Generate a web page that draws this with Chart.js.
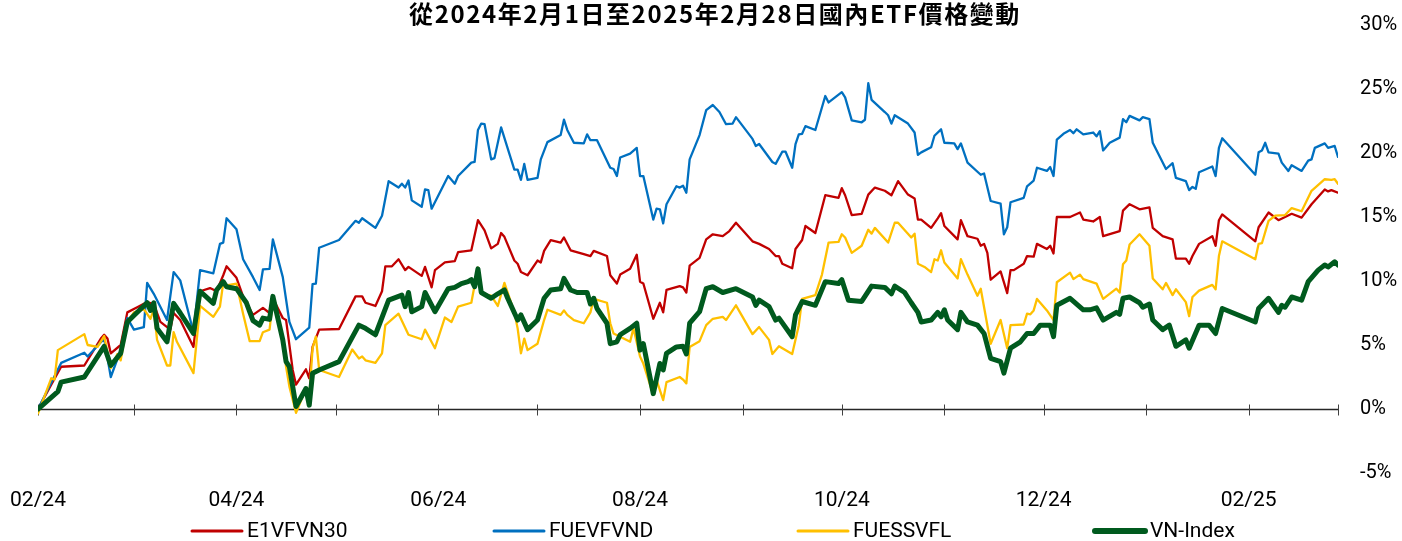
<!DOCTYPE html>
<html>
<head>
<meta charset="utf-8">
<script src="https://cdn.jsdelivr.net/npm/chart.js@4.4.1/dist/chart.umd.min.js"></script>
<style>
  html, body { margin: 0; padding: 0; background: #ffffff; }
  canvas { display: block; }
</style>
</head>
<body>
<canvas id="c" width="1402" height="541" style="width:1402px;height:541px"></canvas>
<script>
// x values are calendar days since 2024-02-01 (day 393 = 2025-02-28)
const titleText = '從2024年2月1日至2025年2月28日國內ETF價格變動';
const seriesNames = ['E1VFVN30', 'FUEVFVND', 'FUESSVFL', 'VN-Index'];
const monthTickDays = [0, 29, 60, 90, 121, 151, 182, 213, 243, 274, 304, 335, 366, 393];
const xLabelDays = [0, 60, 121, 182, 243, 304, 366];
const xLabels = ['02/24', '04/24', '06/24', '08/24', '10/24', '12/24', '02/25'];
const yTicks = [-5, 0, 5, 10, 15, 20, 25, 30];

const e1Days = [0,4,7,14,19,20,21,22,25,27,30,33,35,37,40,41,43,47,49,52,54,56,57,60,62,65,68,70,71,74,75,77,78,81,82,83,85,91,96,98,99,102,104,105,107,109,111,112,116,117,119,120,123,126,127,131,133,135,137,139,140,141,144,145,146,148,151,152,153,155,158,159,161,165,167,168,172,173,175,176,179,181,182,183,186,188,189,190,194,195,196,197,200,202,204,207,209,211,216,218,221,223,224,225,228,229,231,232,235,238,242,243,244,246,249,251,253,256,258,260,263,265,266,267,270,272,273,274,278,279,281,284,285,286,287,288,291,293,294,295,298,299,301,302,305,306,307,308,312,315,316,319,321,322,327,328,330,333,336,337,340,343,344,347,348,349,351,355,356,357,358,368,369,372,375,377,379,382,385,389,390,391,393];
const e1Vals = [0,1.9,3.3,3.4,5.5,5.8,5.5,4.35,5.0,7.55,7.95,8.35,8.2,6.8,6.2,7.5,6.95,4.85,9.2,9.45,9.2,10.45,11.15,10.25,8.8,7.35,7.9,7.5,8.65,7.1,6.95,3.05,1.9,3.1,2.4,4.85,6.2,6.25,8.8,8.8,8.3,8.05,9.2,11.15,11.15,11.7,10.85,11.1,10.4,11.1,9.5,10.85,11.45,11.55,12.25,12.4,14.75,13.95,12.55,12.9,13.75,13.45,11.6,11.35,10.7,10.45,11.6,11.45,12.35,13.2,13.0,13.4,12.4,12.1,11.95,12.35,11.95,10.45,9.8,10.5,10.95,12.05,9.95,9.8,7.05,8.3,7.55,9.3,9.6,9.5,9.1,11.2,11.8,13.25,13.65,13.5,13.9,14.55,13.1,12.9,12.5,11.95,11.95,11.35,11.0,12.5,13.2,14.3,13.75,16.7,16.5,17.25,16.7,15.15,15.25,16.75,17.3,17.05,16.7,17.8,16.75,16.45,14.8,14.8,14.15,14.9,15.3,14.3,13.25,14.75,13.5,13.3,12.75,12.9,12.2,10.1,10.75,9.05,10.85,10.85,11.35,11.95,11.9,12.9,12.5,12.75,12.15,15.0,15.0,15.35,14.8,14.65,15.0,13.5,13.9,15.5,16.0,15.6,15.75,14.15,13.5,13.25,11.75,11.75,11.35,11.95,12.9,13.5,12.75,14.75,15.2,13.1,14.2,15.35,14.75,15.0,15.25,14.95,16.0,17.15,17.0,17.1,16.9];

const fuevDays = [0,7,14,15,20,22,25,27,29,32,33,35,39,41,43,47,49,53,55,56,57,60,62,65,67,68,70,71,74,76,78,82,83,84,85,91,96,97,98,102,104,106,109,110,111,112,113,116,117,118,119,124,126,127,131,132,133,134,135,137,138,140,144,145,146,147,148,151,152,154,158,159,160,162,165,166,167,169,173,174,175,176,179,181,182,183,186,187,188,189,190,193,194,195,196,197,200,202,204,206,208,210,211,216,217,218,220,222,223,225,226,228,229,230,231,232,235,238,239,243,244,246,249,250,251,252,256,257,258,259,263,265,266,267,270,271,273,274,277,278,279,281,285,286,288,291,292,293,294,298,299,301,302,305,306,307,308,310,312,313,314,316,319,320,321,322,324,327,328,329,330,333,334,336,337,341,343,344,347,348,349,350,351,355,356,357,358,368,369,370,371,372,375,376,378,379,382,384,385,386,389,390,392,393];
const fuevVals = [0,3.6,4.4,4.1,5.5,2.5,4.6,7.1,6.2,6.4,9.85,9.0,6.95,10.7,10.05,6.0,10.85,10.6,12.9,13.0,14.9,14.05,11.7,10.3,9.3,10.9,10.95,13.25,10.3,6.8,5.45,6.35,9.75,9.8,12.6,13.2,14.7,14.55,14.9,14.15,15.1,17.8,17.3,17.6,17.3,17.85,16.3,15.8,17.15,17.1,15.65,18.2,17.6,18.2,19.25,19.3,21.8,22.3,22.25,19.5,19.6,22.0,18.7,18.7,17.9,19.15,17.9,18.05,19.5,20.85,21.4,22.6,21.8,20.8,20.75,21.45,21.0,21.0,18.85,18.75,18.2,19.65,19.95,20.4,18.2,18.2,14.8,15.65,15.6,14.5,16.0,17.4,17.3,17.45,16.9,19.5,21.4,23.35,23.75,23.2,22.25,22.3,22.8,21.1,20.55,20.7,20.0,19.3,19.15,20.1,20.1,18.85,20.7,21.45,21.5,22.1,21.8,24.45,23.95,24.75,24.35,22.55,22.4,22.6,25.45,24.15,23.2,22.95,22.3,22.95,22.3,21.6,19.85,20.05,20.45,21.35,21.85,20.8,20.75,20.3,20.75,19.25,18.3,18.4,16.25,16.05,13.65,14.2,16.15,16.5,17.4,17.85,18.85,18.6,18.9,18.2,21.05,21.5,21.8,21.55,21.85,21.45,21.6,21.3,21.7,20.2,20.8,21.2,22.65,22.4,22.9,22.55,22.8,22.65,20.8,18.75,19.2,18.05,17.8,17.1,17.35,17.2,18.5,18.95,18.2,20.4,21.15,18.3,20.05,20.2,20.8,20.05,19.95,19.25,18.6,19.05,18.6,19.4,19.5,20.4,20.75,20.4,20.55,19.7];

const fuessDays = [0,4,5,6,14,15,18,20,22,24,25,27,29,32,34,35,36,39,40,41,42,47,49,53,55,56,57,60,62,64,67,68,70,71,74,75,76,78,81,82,83,84,85,91,95,97,98,99,102,104,105,109,112,116,117,120,123,125,127,131,133,134,137,139,141,144,145,146,147,148,151,153,154,158,159,160,162,165,167,168,172,173,174,179,180,182,183,186,187,189,190,194,195,196,197,200,202,204,207,208,211,216,218,221,222,224,228,230,231,235,237,239,242,243,244,246,249,251,252,253,257,259,260,264,265,266,268,270,271,272,273,274,278,279,281,284,285,288,291,293,294,298,299,300,301,302,305,307,308,312,313,315,316,320,322,326,327,328,329,330,333,336,337,340,341,343,344,347,348,349,351,355,356,357,358,368,369,370,372,374,377,379,382,385,389,391,392,393];
const fuessVals = [-0.35,2.4,2.3,4.6,5.85,5.0,4.85,5.7,3.2,4.3,3.8,6.75,7.55,7.8,7.05,7.8,5.4,3.4,3.4,6.0,5.25,2.8,8.05,7.2,8.0,9.85,9.65,9.8,7.45,5.3,5.3,6.0,6.2,8.45,5.4,3.3,1.75,-0.3,1.6,0.85,4.75,5.65,3.05,2.5,4.65,3.95,4.1,3.8,3.6,4.35,6.55,7.45,5.8,5.45,6.2,4.75,7.15,6.8,8.0,8.3,11.05,9.0,8.85,8.05,9.85,7.55,6.3,4.35,5.5,4.6,5.1,6.95,7.75,7.35,7.7,7.35,6.95,6.7,7.55,8.6,8.3,6.7,5.9,5.25,6.3,4.1,3.55,1.1,2.25,0.7,2.1,2.5,2.3,2.0,4.85,5.3,6.55,7.05,7.2,6.95,8.1,5.85,6.4,5.4,4.3,4.9,4.3,6.55,8.6,8.9,10.5,13.0,13.05,13.65,13.4,12.2,12.75,14.0,13.7,14.15,13.0,14.55,14.55,13.4,13.7,11.35,11.1,10.7,11.7,11.6,12.4,11.45,10.2,11.7,10.5,8.85,9.4,5.1,6.95,4.75,6.55,6.6,7.45,7.4,7.7,8.6,7.7,6.95,9.9,10.65,10.15,10.5,10.15,9.8,8.6,9.4,9.1,11.3,11.6,12.85,13.65,12.75,10.2,9.35,9.85,8.9,9.35,8.35,7.25,8.75,9.25,9.7,9.35,11.95,13.1,11.7,12.9,12.95,14.7,15.1,15.15,15.7,15.45,17.05,17.95,17.9,17.95,17.6];

const vnDays = [0,6,7,14,20,22,25,27,29,33,34,35,36,39,41,43,47,49,53,54,56,57,60,63,65,67,68,70,71,74,75,76,78,81,82,83,85,91,97,99,102,106,110,111,112,113,116,117,120,124,126,128,130,131,132,133,134,137,139,141,142,145,146,148,151,153,155,158,159,161,163,166,167,168,169,172,173,175,176,179,181,182,183,186,188,189,190,193,195,196,197,200,202,204,207,211,216,217,218,221,223,224,228,229,231,235,238,242,243,245,249,252,256,258,259,262,264,266,267,270,272,273,274,275,278,279,281,284,286,288,291,292,294,297,299,301,303,306,307,308,312,316,318,320,322,326,327,328,330,333,334,336,337,340,342,344,347,348,351,354,356,358,368,369,372,375,376,377,379,382,384,387,389,390,392,393];
const vnVals = [0,1.35,2.1,2.5,4.9,3.4,4.35,6.8,7.3,8.3,7.7,8.3,6.3,5.25,8.25,7.5,5.9,9.2,8.25,9.3,9.95,9.55,9.4,8.3,6.9,6.55,7.1,7.0,8.8,5.4,3.7,3.3,0.2,1.6,0.3,2.8,3.05,3.7,6.55,6.3,5.8,8.5,8.9,8.0,9.1,7.6,8.0,9.1,7.6,9.4,9.5,9.8,9.95,10.1,9.55,10.95,9.1,8.65,9.0,9.3,8.65,6.95,7.35,6.2,6.95,8.65,9.3,9.4,10.2,9.3,9.1,9.1,8.2,8.65,7.85,6.7,5.1,5.25,5.8,6.3,6.7,4.6,5.1,1.2,3.55,3.05,4.35,4.85,4.9,4.3,6.7,7.6,9.4,9.55,9.1,9.4,8.75,8.1,8.5,8.0,6.95,7.1,5.65,7.35,8.4,8.1,9.95,9.8,10.1,8.5,8.4,9.6,9.5,9.0,9.6,9.1,8.3,7.55,6.8,6.95,7.55,7.2,7.75,6.95,6.2,7.55,6.8,6.55,5.9,3.95,3.7,2.8,4.75,5.25,5.9,5.9,6.55,6.55,5.65,8.1,8.65,7.75,7.75,7.9,6.95,7.55,7.4,8.65,8.75,8.3,7.95,8.2,6.95,6.2,6.55,4.9,5.4,4.75,6.55,6.55,5.9,7.85,6.8,7.85,8.65,7.55,8.1,7.95,8.75,8.5,9.95,10.85,11.25,11.1,11.5,11.25];

const seriesDays = [e1Days, fuevDays, fuessDays, vnDays];
const seriesVals = [e1Vals, fuevVals, fuessVals, vnVals];
const seriesColors = ['#C00000', '#0070C0', '#FFC000', '#005A1E'];
const seriesWidths = [2.3, 2.3, 2.3, 5];
const seriesOrder = [4, 3, 2, 1];

const datasets = seriesNames.map((name, s) => ({
  label: name,
  data: seriesDays[s].map((d, i) => ({ x: d, y: seriesVals[s][i] })),
  borderColor: seriesColors[s],
  backgroundColor: seriesColors[s],
  borderWidth: seriesWidths[s],
  pointRadius: 0,
  pointHoverRadius: 0,
  tension: 0,
  borderJoinStyle: 'round',
  borderCapStyle: 'round',
  order: seriesOrder[s],
  fill: false
}));

const FONT = 'Roboto, "Noto Sans", sans-serif';

const decorPlugin = {
  id: 'decor',
  beforeDatasetsDraw(chart) {
    const ctx = chart.ctx;
    const xs = chart.scales.x, ys = chart.scales.y;
    const y0 = Math.round(ys.getPixelForValue(0)) + 0.5;
    ctx.save();
    ctx.strokeStyle = '#262626';
    ctx.lineWidth = 1.3;
    ctx.beginPath();
    ctx.moveTo(chart.chartArea.left, y0);
    ctx.lineTo(chart.chartArea.right, y0);
    ctx.stroke();
    ctx.lineWidth = 1;
    ctx.strokeStyle = '#404040';
    monthTickDays.forEach(d => {
      const x = Math.round(xs.getPixelForValue(d)) + 0.5;
      ctx.beginPath();
      ctx.moveTo(x, y0 - 5);
      ctx.lineTo(x, y0 + 6);
      ctx.stroke();
    });
    ctx.restore();
  },
  afterDraw(chart) {
    const ctx = chart.ctx;
    ctx.save();
    // title
    ctx.fillStyle = '#000000';
    ctx.font = 'bold 24px "Noto Sans CJK TC", "Noto Sans CJK SC", sans-serif';
    try { ctx.letterSpacing = '1.6px'; } catch (e) {}
    ctx.textAlign = 'center';
    ctx.textBaseline = 'middle';
    ctx.fillText(titleText, 715, 14);
    try { ctx.letterSpacing = '0px'; } catch (e) {}
    // legend
    const starts = [190, 492, 796, 1093];
    const ly = 531;
    ctx.font = '21px ' + FONT;
    ctx.textAlign = 'left';
    ctx.textBaseline = 'middle';
    seriesNames.forEach((name, s) => {
      ctx.strokeStyle = seriesColors[s];
      ctx.lineWidth = s === 3 ? 6 : 3;
      ctx.lineCap = 'round';
      ctx.beginPath();
      ctx.moveTo(starts[s] + 2, ly);
      ctx.lineTo(starts[s] + 52, ly);
      ctx.stroke();
      ctx.fillStyle = '#000000';
      ctx.fillText(name, starts[s] + 57, ly + 1);
    });
    ctx.restore();
  }
};

new Chart(document.getElementById('c'), {
  type: 'line',
  data: { datasets },
  plugins: [decorPlugin],
  options: {
    responsive: false,
    devicePixelRatio: 1,
    animation: false,
    events: [],
    layout: { padding: { left: 38, top: 25, right: 0, bottom: 0 } },
    plugins: { legend: { display: false }, title: { display: false }, tooltip: { enabled: false } },
    scales: {
      x: {
        type: 'linear',
        min: 0,
        max: 393,
        grid: { display: false, drawTicks: false },
        border: { display: false },
        afterBuildTicks(scale) { scale.ticks = xLabelDays.map(v => ({ value: v })); },
        afterFit(scale) { scale.height = 68; scale.paddingLeft = 0; scale.paddingRight = 0; },
        ticks: {
          autoSkip: false,
          maxRotation: 0,
          padding: 15,
          color: '#000000',
          font: { family: FONT, size: 21 },
          callback: (v) => { const i = xLabelDays.indexOf(v); return i >= 0 ? xLabels[i] : ''; }
        }
      },
      y: {
        position: 'right',
        min: -5,
        max: 30,
        grid: { display: false, drawTicks: false },
        border: { display: false },
        afterBuildTicks(scale) { scale.ticks = yTicks.map(v => ({ value: v })); },
        afterFit(scale) { scale.width = 64; scale.paddingTop = 0; scale.paddingBottom = 0; },
        ticks: {
          padding: 22,
          color: '#000000',
          font: { family: FONT, size: 20 },
          callback: (v) => v + '%'
        }
      }
    }
  }
});
</script>
</body>
</html>
